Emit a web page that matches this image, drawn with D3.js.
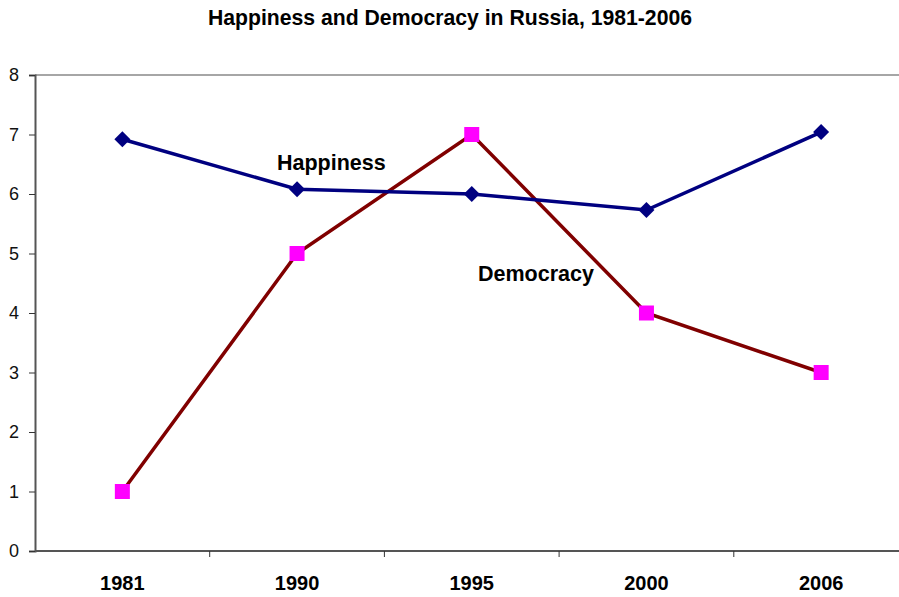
<!DOCTYPE html>
<html>
<head>
  <meta charset="utf-8">
  <script src="https://d3js.org/d3.v7.min.js"></script>
  <style>
    body { margin: 0; background: #fff; }
    text { font-family: Arial, "Liberation Sans", sans-serif; }
  </style>
</head>
<body>
<script>
  // chart data
  var years = ["1981", "1990", "1995", "2000", "2006"];
  var happiness = [6.92, 6.08, 6.0, 5.73, 7.04];
  var democracy = [1, 5, 7, 4, 3];
  var yTicks = [0, 1, 2, 3, 4, 5, 6, 7, 8];

  var width = 899, height = 597;
  var plotLeft = 35, plotRight = 908.5, plotTop = 75, plotBottom = 551;

  var svg = d3.select("body").append("svg")
    .attr("width", width)
    .attr("height", height);

  var x = d3.scaleBand().domain(years).range([plotLeft, plotRight]);
  var y = d3.scaleLinear().domain([0, 8]).range([plotBottom, plotTop]);
  var cx = function(d, i) { return x(years[i]) + x.bandwidth() / 2; };

  svg.append("text")
    .attr("x", 450).attr("y", 25)
    .attr("text-anchor", "middle")
    .style("font-size", "21.2px").style("font-weight", "bold")
    .text("Happiness and Democracy in Russia, 1981-2006");

  // top border
  svg.append("line")
    .attr("x1", plotLeft).attr("x2", plotRight)
    .attr("y1", plotTop).attr("y2", plotTop)
    .attr("stroke", "#a6a6a6").attr("stroke-width", 2);

  // y axis
  var yAxis = svg.append("g")
    .attr("transform", "translate(" + plotLeft + ",0)")
    .call(d3.axisLeft(y).tickValues(yTicks).tickSize(6).tickPadding(10));
  yAxis.select(".domain").attr("stroke", "#555").attr("stroke-width", 2);
  yAxis.selectAll(".tick line").attr("stroke", "#333");
  yAxis.selectAll(".tick text")
    .style("font-size", "18px").attr("fill", "#111")
    .style("font-family", "Arial, 'Liberation Sans', sans-serif");

  // x axis: ticks between categories
  var xAxis = svg.append("g")
    .attr("transform", "translate(0," + plotBottom + ")");
  xAxis.append("line")
    .attr("x1", plotLeft).attr("x2", plotRight)
    .attr("stroke", "#555").attr("stroke-width", 2);
  xAxis.selectAll(".xt").data(years.slice(1)).enter().append("line")
    .attr("x1", function(d) { return x(d); })
    .attr("x2", function(d) { return x(d); })
    .attr("y1", 0).attr("y2", 6)
    .attr("stroke", "#333");
  xAxis.selectAll(".xl").data(years).enter().append("text")
    .attr("x", function(d) { return x(d) + x.bandwidth() / 2; })
    .attr("y", 39)
    .attr("text-anchor", "middle")
    .style("font-size", "20px").style("font-weight", "bold")
    .text(function(d) { return d; });

  var line = d3.line().x(cx).y(function(d) { return y(d); });

  svg.append("path").datum(democracy)
    .attr("d", line).attr("fill", "none")
    .attr("stroke", "#800000").attr("stroke-width", 3.5);

  svg.append("path").datum(happiness)
    .attr("d", line).attr("fill", "none")
    .attr("stroke", "#000080").attr("stroke-width", 3.5);

  svg.selectAll(".dem").data(democracy).enter().append("rect")
    .attr("x", function(d, i) { return cx(d, i) - 7.5; })
    .attr("y", function(d) { return y(d) - 7.5; })
    .attr("width", 15).attr("height", 15)
    .attr("fill", "#ff00ff");

  svg.selectAll(".hap").data(happiness).enter().append("path")
    .attr("transform", function(d, i) { return "translate(" + cx(d, i) + "," + y(d) + ")"; })
    .attr("d", "M0,-8L8,0L0,8L-8,0Z")
    .attr("fill", "#000080");

  // series labels
  svg.append("text")
    .attr("x", 277).attr("y", 170)
    .style("font-size", "21.5px").style("font-weight", "bold")
    .text("Happiness");
  svg.append("text")
    .attr("x", 478).attr("y", 281)
    .style("font-size", "21.5px").style("font-weight", "bold")
    .text("Democracy");
</script>
</body>
</html>
